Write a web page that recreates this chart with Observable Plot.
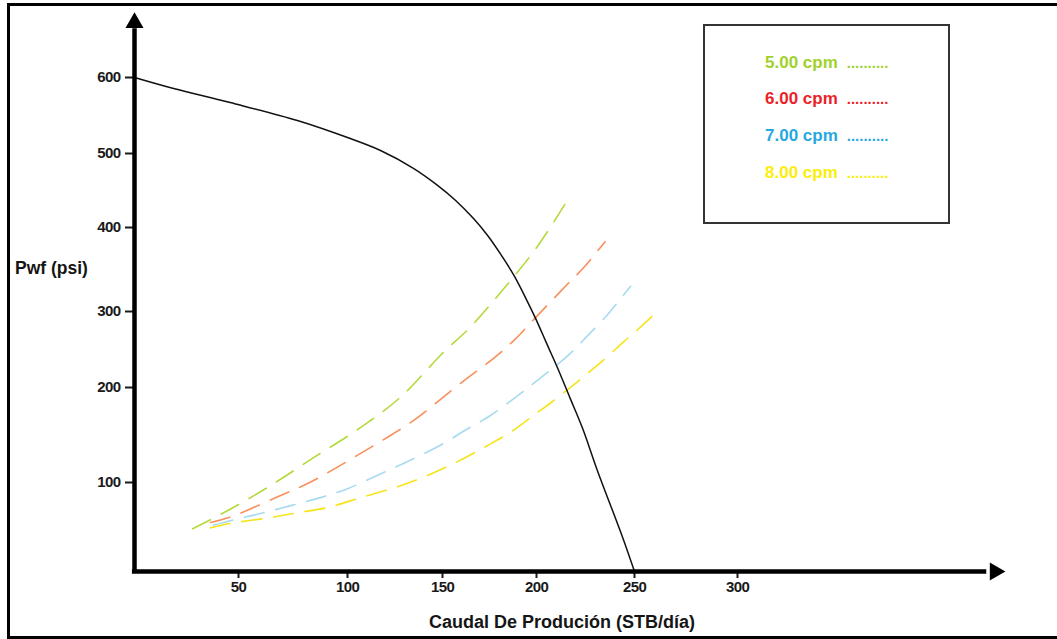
<!DOCTYPE html>
<html>
<head>
<meta charset="utf-8">
<script src="https://cdn.jsdelivr.net/npm/d3@7"></script>
<script src="https://cdn.jsdelivr.net/npm/@observablehq/plot@0.6"></script>
<style>
html,body{margin:0;padding:0;background:#fff;}
#wrap{position:relative;width:1057px;height:639px;overflow:hidden;background:#fff;font-family:"Liberation Sans",Arial,sans-serif;}
#border{position:absolute;left:7px;top:3px;width:1070px;height:636px;border:3px solid #000;box-sizing:border-box;}
#chart{position:absolute;left:0;top:0;}
#chart g[aria-label$="tick label"] text{letter-spacing:-0.6px;}
.ttl{position:absolute;font-weight:bold;color:#151515;white-space:nowrap;line-height:20px;}
#legend{position:absolute;left:703px;top:24px;width:247px;height:200px;border:2px solid #333;box-sizing:border-box;}
.lg{position:absolute;left:765px;font-weight:bold;font-size:17px;line-height:20px;white-space:nowrap;}
.lg .dots{font-size:15px;margin-left:9px;}
</style>
</head>
<body>
<div id="wrap">
  <div id="chart"></div>
  <div id="border"></div>
  <div id="legend"></div>
  <div id="legendItems"></div>
  <div class="ttl" id="ylab" style="left:15px;top:258px;font-size:17.5px;">Pwf (psi)</div>
  <div class="ttl" id="xlab" style="left:429px;top:612px;font-size:18px;">Caudal De Produción (STB/día)</div>
</div>
<script>
// ---- data (q in STB/día, Pwf in psi) ----
const xTicks = [50, 100, 150, 200, 250, 300];
const yTicks = [100, 200, 300, 400, 500, 600];

const ipr = [[0,600],[18.8,585.5],[46,567],[77,543.4],[100,521],[117.4,504],[134.7,480],[147.4,457],[157,436.5],[166.5,412],[174,390.5],[181,368],[188,343],[193.6,319],[199.5,291],[205,259],[210.7,226],[217.3,188],[223.5,157],[231,113],[244,38],[250,0]];

const cpm5 = [[28,48],[46,70],[65,97],[85,127],[107,158],[128,190],[150,245],[165,280],[181,323],[200,376],[217,442]];
const cpm6 = [[36.5,55],[46,61],[68,84],[81,98],[93,113],[108,132],[123,150],[136,167],[148,186],[163,212],[177,238],[188,262],[199.5,292],[216,333],[224,352],[235,383]];
const cpm7 = [[38,52],[46,57],[61.5,66],[74,74],[87.6,83],[100,93],[119,110.5],[134.7,125],[150.5,141],[162,155],[175.5,170.5],[190.4,192],[201,210.5],[217.3,245],[226,268],[236,295],[243,315.5],[248,330]];
const cpm8 = [[36.5,49],[46,54],[63,60],[77,66],[91,72],[107,83],[123,93],[138,104],[156,120],[174,139],[187,154],[198,170],[208,185],[223.5,213],[235,238],[244,259],[251.5,276],[261,300]];

const seriesNames = ["5.00 cpm", "6.00 cpm", "7.00 cpm", "8.00 cpm"];
const seriesData = [cpm5, cpm6, cpm7, cpm8];

// axis ends (data units) where the arrowheads sit
const xAxisEnd = 425;
const yAxisEnd = 672;

// ---- styles ----
const curveColors = ["#b3da3a", "#fa8f5c", "#a6dbee", "#f6e41a"];
const legendColors = ["#9fd22b", "#ec1f27", "#27a8e0", "#fbee0c"];
const tickFont = '"Liberation Sans Narrow","Arial Narrow","Liberation Sans",Arial,sans-serif';

const X = d => d[0], Y = d => d[1];

const chart = Plot.plot({
  width: 1057,
  height: 639,
  marginLeft: 134,
  marginBottom: 68,
  marginTop: 0,
  marginRight: 0,
  style: {background: "transparent", color: "#1a1a1a", overflow: "visible"},
  x: {type: "linear", domain: [0, 50, 100, 150, 200, 250, 300], range: [134, 238, 347, 442, 536, 634, 737]},
  y: {type: "linear", domain: [0, 100, 200, 300, 400, 500, 600], range: [571, 482, 387, 311, 227, 153, 77]},
  marks: [
    Plot.axisY(yTicks, {anchor: "left", tickSize: 9, tickPadding: 5, strokeWidth: 2, fontSize: 15, fontWeight: "bold", fontFamily: tickFont, label: null, tickFormat: d => String(d)}),
    Plot.axisX(xTicks, {anchor: "bottom", tickSize: 7, tickPadding: 3, strokeWidth: 2, fontSize: 15, fontWeight: "bold", fontFamily: tickFont, label: null, tickFormat: d => String(d)}),
    ...seriesData.map((s, i) => Plot.line(s, {x: X, y: Y, stroke: curveColors[i], strokeWidth: 1.6, strokeDasharray: "20,12", curve: "catmull-rom"})),
    Plot.line(ipr, {x: X, y: Y, stroke: "#111", strokeWidth: 1.5, curve: "catmull-rom"}),
    Plot.ruleX([0], {y1: -1, y2: yAxisEnd - 8, stroke: "#000", strokeWidth: 4.5}),
    Plot.ruleY([0], {x1: -1, x2: xAxisEnd - 4, stroke: "#000", strokeWidth: 4.5}),
    Plot.dot([[0, yAxisEnd]], {x: X, y: Y, symbol: "triangle", r: 6.7, fill: "#000", stroke: null}),
    Plot.dot([[xAxisEnd, 0]], {x: X, y: Y, symbol: "triangle", r: 6.7, fill: "#000", stroke: null, rotate: 90})
  ]
});
document.getElementById("chart").appendChild(chart);

// legend
const tops = [53, 89, 126, 163];
const holder = document.getElementById("legendItems");
seriesNames.forEach((name, i) => {
  const d = document.createElement("div");
  d.className = "lg";
  d.style.top = tops[i] + "px";
  d.style.color = legendColors[i];
  d.innerHTML = name + '<span class="dots">..........</span>';
  holder.appendChild(d);
});
</script>
</body>
</html>
